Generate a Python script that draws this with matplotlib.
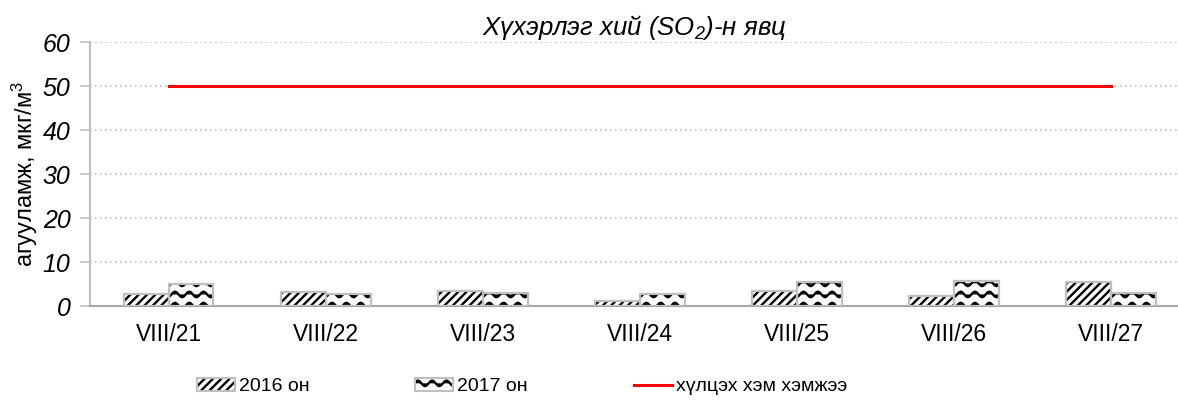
import warnings
import numpy as np
import matplotlib as mpl
mpl.use('Agg')
import matplotlib.pyplot as plt
import matplotlib.hatch as mhatch
from matplotlib.path import Path
from matplotlib.patches import Patch
from matplotlib.lines import Line2D

warnings.filterwarnings('ignore')

mpl.rcParams['font.family'] = ['Liberation Sans', 'DejaVu Sans']
mpl.rcParams['mathtext.default'] = 'regular'
mpl.rcParams['hatch.linewidth'] = 1.7

# data
days = ['VIII/21', 'VIII/22', 'VIII/23', 'VIII/24', 'VIII/25', 'VIII/26', 'VIII/27']
so2_2016 = [2.7, 3.2, 3.4, 1.1, 3.5, 2.3, 5.5]
so2_2017 = [5.1, 2.7, 2.9, 2.7, 5.5, 5.7, 2.9]
limit = [50, 50, 50, 50, 50, 50, 50]
labels = ['2016 он', '2017 он', 'хүлцэх хэм хэмжээ']


class WaveHatch(mhatch.HatchPatternBase):
    # wavy lines, used with '~'
    def __init__(self, hatch, density):
        self.rows = 9 if '~' in hatch else 0
        self.periods = 7
        self.pts = self.periods * 8 + 1
        self.num_vertices = self.rows * self.pts

    def set_vertices_and_codes(self, vertices, codes):
        x = np.linspace(0, 1, self.pts)
        step = 1.0 / self.rows
        k = 0
        for i in range(self.rows):
            y = (i + 0.5) * step + 0.028 * np.sin(2 * np.pi * self.periods * x)
            vertices[k:k + self.pts, 0] = x
            vertices[k:k + self.pts, 1] = y
            codes[k] = Path.MOVETO
            codes[k + 1:k + self.pts] = Path.LINETO
            k += self.pts


mhatch._hatch_types.append(WaveHatch)

GRAY = '#bfbfbf'

fig = plt.figure(figsize=(11.78, 4.01), dpi=100)
ax = fig.add_axes([90 / 1178, 1 - 306 / 401, 1 - 90 / 1178, (306 - 42) / 401])

x = np.arange(len(days))
w = 0.286
ax.bar(x - w / 2, so2_2016, w, facecolor='white', edgecolor='black', linewidth=0, hatch='////', zorder=2)
ax.bar(x - w / 2, so2_2016, w, fill=False, edgecolor=GRAY, linewidth=1.6, zorder=3)
ax.bar(x + w / 2, so2_2017, w, facecolor='white', edgecolor='black', linewidth=0, hatch='~', zorder=2)
ax.bar(x + w / 2, so2_2017, w, fill=False, edgecolor=GRAY, linewidth=1.6, zorder=3)
ax.plot(x, limit, color='#ff0000', lw=2.2, zorder=4)

ax.set_xlim(-0.5, (1178 - 168) / 157.2)
ax.set_ylim(0, 60)
ax.set_yticks(range(0, 61, 10))
ax.set_xticks(x)
ax.set_xticklabels(days, fontsize=16.5)
for t in ax.get_yticklabels():
    t.set_fontstyle('italic')
    t.set_fontsize(18)
ax.tick_params(axis='x', length=0, pad=12)
ax.tick_params(axis='y', length=7, color=GRAY, width=1.2, pad=7)
ax.yaxis.grid(True, linestyle=(0, (1, 2)), color=GRAY, lw=1.2, zorder=0)
ax.set_axisbelow(True)
for s in ['top', 'right']:
    ax.spines[s].set_visible(False)
for s in ['left', 'bottom']:
    ax.spines[s].set_color(GRAY)
    ax.spines[s].set_linewidth(1.5)
ax.spines['bottom'].set_color('#a6a6a6')

ax.set_ylabel('агууламж, мкг/м$^3$', fontsize=17, labelpad=2)
ax.set_title('Хүхэрлэг хий (SO$_2$)-н явц', fontsize=18.5, fontstyle='italic', pad=3)

h1 = (Patch(facecolor='white', edgecolor='black', linewidth=0, hatch='////'),
      Patch(fill=False, edgecolor=GRAY, linewidth=1.5))
h2 = (Patch(facecolor='white', edgecolor='black', linewidth=0, hatch='~'),
      Patch(fill=False, edgecolor=GRAY, linewidth=1.5))
h3 = Line2D([], [], color='#ff0000', lw=2.2)
fig.legend([h1, h2, h3], labels, loc='center left', bbox_to_anchor=(197 / 1178, 0.035),
           ncol=3, frameon=False, fontsize=14, handlelength=1.95, handleheight=0.6,
           handletextpad=0.2, columnspacing=5.45, borderpad=0, borderaxespad=0)

fig.savefig('out.png', dpi=100)
